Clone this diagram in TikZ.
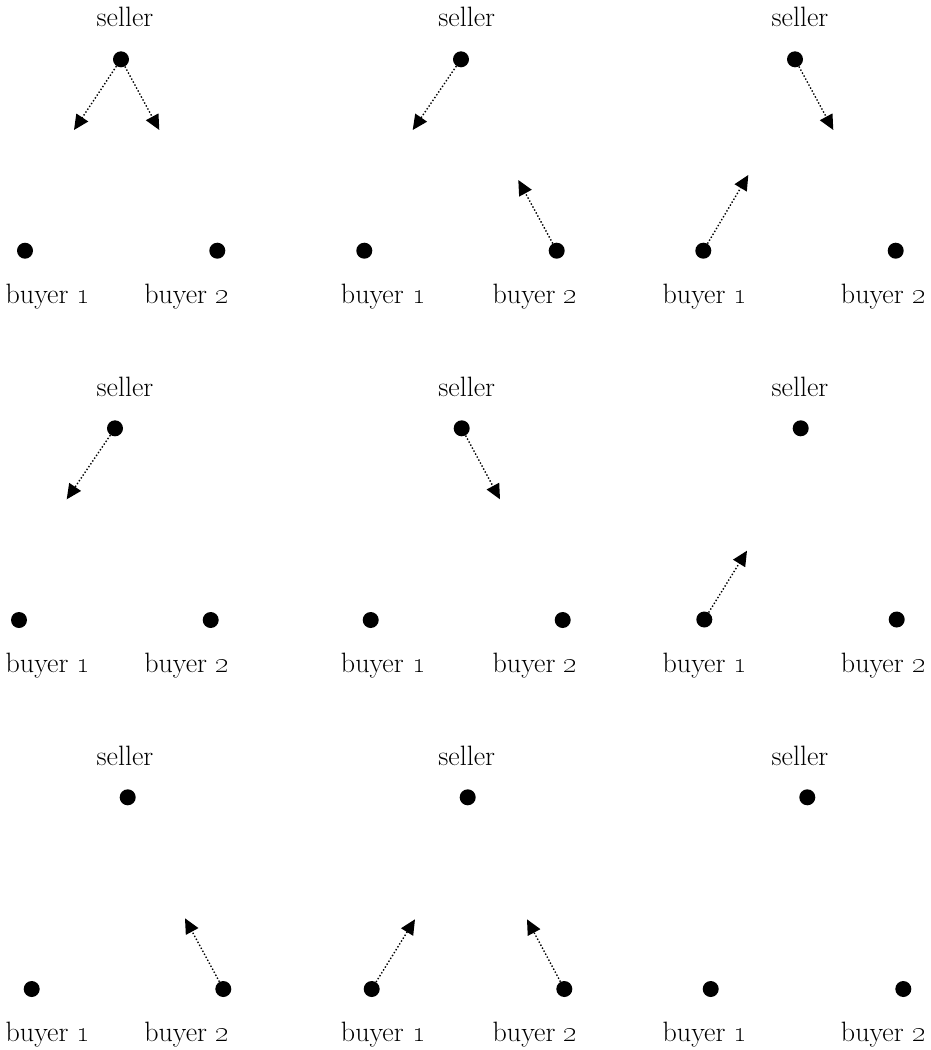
\documentclass[tikz,border=0pt]{standalone}
\usepackage{tikz}
\usetikzlibrary{arrows.meta}

\begin{document}
\begin{tikzpicture}[
    x=1pt, y=-1pt,
    agent/.style={circle,fill=black,inner sep=0pt,minimum size=16pt},
    tag/.style={anchor=base,inner sep=0pt,font=\fontsize{28}{33}\selectfont},
    offer/.style={-{Triangle[length=15pt,width=14pt]},dotted,line width=1.4pt}
  ]
    \useasboundingbox (0,0) rectangle (931,1050);

    % labels sit on a fixed grid, one set per panel
    \foreach \r/\dy in {1/0,2/369.3,3/738.3}
      \foreach \c/\sx/\ax/\bx in {1/125/48/186.7,2/466.7/383.3/535,3/800/705/883.3} {
        \node[tag] (ls\r\c) at (\sx,{26.7+\dy}) {seller};
        \node[tag] (la\r\c) at (\ax,{303.5+\dy}) {buyer \oldstylenums{1}};
        \node[tag] (lb\r\c) at (\bx,{303.5+\dy}) {buyer \oldstylenums{2}};
      }

    % seller, buyer 1, buyer 2 of each panel
    \foreach \p/\sx/\sy/\ax/\bx/\by in {
        11/121/59.3/25/217.3/250.7, 12/461/59.3/364.3/556.7/250.7,
        13/795/59.3/703.3/895.7/250.7, 21/115/428.3/19/210.7/620,
        22/461.7/428.3/370.7/562.7/620, 23/800.7/428.3/704.3/896.7/619.5,
        31/127.7/797.3/31.7/223.3/989, 32/467.7/797.3/371.7/564.3/989,
        33/807.3/797.3/710.7/903.3/989} {
      \node[agent] (s\p) at (\sx,\sy) {};
      \node[agent] (a\p) at (\ax,\by) {};
      \node[agent] (b\p) at (\bx,\by) {};
    }

    % where the offers point
    \coordinate (t11a) at (74,130);
    \coordinate (t11b) at (159.3,130);
    \coordinate (t12a) at (412.7,130);
    \coordinate (t12b) at (518.3,180);
    \coordinate (t13a) at (833.3,130);
    \coordinate (t13b) at (748.3,175);
    \coordinate (t21) at (66.7,499.3);
    \coordinate (t22) at (500,499.3);
    \coordinate (t23) at (747,550.7);
    \coordinate (t31) at (185,918.3);
    \coordinate (t32a) at (415,919.3);
    \coordinate (t32b) at (527,919.3);

    \draw[offer] (s11) -- (t11a);
    \draw[offer] (s11) -- (t11b);
    \draw[offer] (s12) -- (t12a);
    \draw[offer] (b12) -- (t12b);
    \draw[offer] (s13) -- (t13a);
    \draw[offer] (a13) -- (t13b);
    \draw[offer] (s21) -- (t21);
    \draw[offer] (s22) -- (t22);
    \draw[offer] (a23) -- (t23);
    \draw[offer] (b31) -- (t31);
    \draw[offer] (a32) -- (t32a);
    \draw[offer] (b32) -- (t32b);
\end{tikzpicture}
\end{document}
